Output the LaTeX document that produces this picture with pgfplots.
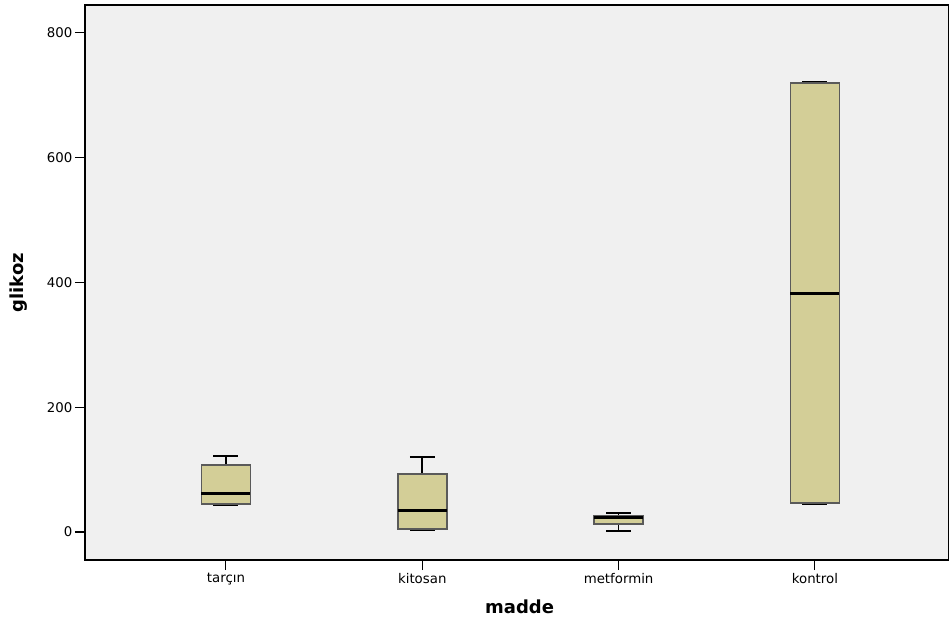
\documentclass[border=0pt]{standalone}
\usepackage{pgfplots}
\pgfplotsset{compat=1.18}
\usepackage{fontspec}
\setmainfont{DejaVu Sans}
\definecolor{bg}{HTML}{F0F0F0}
\definecolor{boxfill}{HTML}{D3CE97}
\definecolor{boxedge}{HTML}{5A5A5A}
\begin{document}
\begin{tikzpicture}
\begin{axis}[
  scale only axis,
  width=648pt, height=416.25pt,
  xmin=-0.718, xmax=3.683,
  ymin=-44.9, ymax=844.8,
  axis background/.style={fill=bg},
  axis line style={black, line width=0.8pt},
  xtick={0,1,2,3},
  xticklabels={tarçın,kitosan,metformin,kontrol},
  ytick={0,200,400,600,800},
  yticklabels={0,200,400,600,800},
  tick align=outside,
  major tick length=7.5pt,
  tick style={black, line width=0.8pt},
  xtick pos=bottom, ytick pos=left,
  tick label style={font=\fontsize{10}{12}\selectfont},
  xticklabel style={yshift=1pt},
  yticklabel style={xshift=1.5pt},
  xlabel={\textbf{madde}},
  ylabel={\textbf{glikoz}},
  xlabel style={font=\fontsize{13.5}{15}\selectfont, at={(axis description cs:0.503,-0.0847)}, anchor=center},
  ylabel style={font=\fontsize{13.5}{15}\selectfont, at={(axis description cs:-0.0764,0.5)}, anchor=center},
  wh/.style={black, line width=1.3pt, mark=none},
  bx/.style={fill=boxfill, draw=boxedge, line width=1.3pt, mark=none},
  md/.style={black, line width=2.2pt, mark=none},
]
% tarçın: lw=43, q1=44.5, med=61, q3=107, uw=122
\addplot[wh] coordinates {(0,107) (0,122)};
\addplot[wh] coordinates {(-0.0635,122) (0.0635,122)};
\addplot[wh] coordinates {(-0.0635,43) (0.0635,43)};
\addplot[bx] coordinates {(-0.125,44.5) (0.125,44.5) (0.125,107) (-0.125,107)} -- cycle;
\addplot[md] coordinates {(-0.125,61) (0.125,61)};
% kitosan: lw=3, q1=5, med=35, q3=92.5, uw=120
\addplot[wh] coordinates {(1,92.5) (1,120)};
\addplot[wh] coordinates {(0.9365,120) (1.0635,120)};
\addplot[wh] coordinates {(0.9365,3) (1.0635,3)};
\addplot[bx] coordinates {(0.875,5) (1.125,5) (1.125,92.5) (0.875,92.5)} -- cycle;
\addplot[md] coordinates {(0.875,35) (1.125,35)};
% metformin: lw=1.5, q1=12.5, med=23, q3=26.5, uw=30
\addplot[wh] coordinates {(2,1.5) (2,12.5)};
\addplot[wh] coordinates {(2,26.5) (2,30)};
\addplot[wh] coordinates {(1.9365,30) (2.0635,30)};
\addplot[wh] coordinates {(1.9365,1.5) (2.0635,1.5)};
\addplot[bx] coordinates {(1.875,12.5) (2.125,12.5) (2.125,26.5) (1.875,26.5)} -- cycle;
\addplot[md] coordinates {(1.875,23) (2.125,23)};
% kontrol: lw=45, q1=46, med=382.6, q3=720, uw=721
\addplot[wh] coordinates {(2.9365,721) (3.0635,721)};
\addplot[wh] coordinates {(2.9365,45) (3.0635,45)};
\addplot[bx] coordinates {(2.875,46) (3.125,46) (3.125,720) (2.875,720)} -- cycle;
\addplot[md] coordinates {(2.875,382.6) (3.125,382.6)};
\end{axis}
\pgfresetboundingbox
\useasboundingbox ([xshift=-63.75pt,yshift=-45.75pt]current axis.south west) rectangle ([yshift=3.75pt]current axis.north east);
\end{tikzpicture}
\end{document}
